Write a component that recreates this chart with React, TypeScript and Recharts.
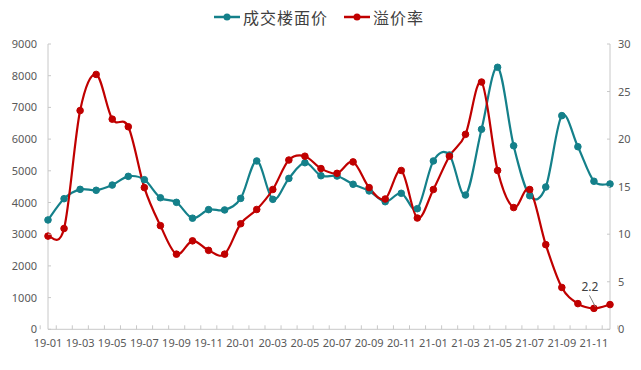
import { LineChart, Line, XAxis, YAxis, LabelList } from 'recharts';

const months = [
  '19-01', '19-02', '19-03', '19-04', '19-05', '19-06', '19-07', '19-08', '19-09', '19-10', '19-11', '19-12',
  '20-01', '20-02', '20-03', '20-04', '20-05', '20-06', '20-07', '20-08', '20-09', '20-10', '20-11', '20-12',
  '21-01', '21-02', '21-03', '21-04', '21-05', '21-06', '21-07', '21-08', '21-09', '21-10', '21-11', '21-12',
];

// 成交楼面价 (元/平方米)
const floorPrice = [
  3450, 4120, 4415, 4385, 4550, 4825, 4720, 4150, 4005, 3505, 3775, 3765,
  4130, 5310, 4100, 4760, 5255, 4845, 4835, 4575, 4365, 4025, 4290, 3805,
  5310, 5500, 4235, 6310, 8265, 5790, 4215, 4490, 6740, 5760, 4670, 4585,
];

// 溢价率 (%)
const premiumRate = [
  9.8, 10.6, 23.0, 26.8, 22.1, 21.3, 14.9, 10.9, 7.9, 9.3, 8.3, 7.9,
  11.1, 12.6, 14.7, 17.8, 18.2, 16.9, 16.4, 17.6, 14.9, 13.7, 16.7, 11.7,
  14.7, 18.2, 20.5, 26.0, 16.7, 12.8, 14.7, 8.9, 4.4, 2.7, 2.2, 2.6,
];

const leftTicks = [0, 1000, 2000, 3000, 4000, 5000, 6000, 7000, 8000, 9000];
const rightTicks = [0, 5, 10, 15, 20, 25, 30];
const annotated = '21-11';

const data = months.map((m, i) => ({ month: m, price: floorPrice[i], rate: premiumRate[i] }));

const TEAL = '#14808a';
const RED = '#c00000';
const AXIS = '#c8c8c8';
const TXT = '#595959';
const FONT = '"Noto Sans", sans-serif';

const W = 641;
const H = 370;
const LEFT_W = 48;
const RIGHT_W = 31;
const TOP = 44;
const BOTTOM = 40.7;
const BAND = (W - LEFT_W - RIGHT_W) / months.length;

// excel-like smoothing (catmull-rom through every point)
const smooth = (context: any) => {
  let pts: number[][] = [];
  return {
    areaStart() {},
    areaEnd() {},
    lineStart() {
      pts = [];
    },
    point(x: number, y: number) {
      pts.push([+x, +y]);
    },
    lineEnd() {
      const n = pts.length;
      if (!n) return;
      context.moveTo(pts[0][0], pts[0][1]);
      for (let i = 0; i < n - 1; i++) {
        const p0 = pts[Math.max(i - 1, 0)];
        const p1 = pts[i];
        const p2 = pts[i + 1];
        const p3 = pts[Math.min(i + 2, n - 1)];
        context.bezierCurveTo(
          p1[0] + (p2[0] - p0[0]) / 6,
          p1[1] + (p2[1] - p0[1]) / 6,
          p2[0] - (p3[0] - p1[0]) / 6,
          p2[1] - (p3[1] - p1[1]) / 6,
          p2[0],
          p2[1]
        );
      }
    },
  };
};

const XTick = (props: any) => {
  const { x, y, payload } = props;
  const idx = payload.index ?? props.index;
  return (
    <g>
      <line x1={x - BAND / 2} x2={x - BAND / 2} y1={y} y2={y - 4} stroke={AXIS} />
      {idx === months.length - 1 && (
        <line x1={x + BAND / 2} x2={x + BAND / 2} y1={y} y2={y - 4} stroke={AXIS} />
      )}
      {idx % 2 === 0 && (
        <text x={x} y={y + 18} textAnchor="middle" fontSize={11} fill={TXT} fontFamily={FONT}>
          {payload.value}
        </text>
      )}
    </g>
  );
};

const LeftTick = (props: any) => {
  const { x, y, payload } = props;
  return (
    <g>
      <line x1={x} x2={x + 3} y1={y} y2={y} stroke={AXIS} />
      <text x={x - 11} y={y + 4} textAnchor="end" fontSize={11} fill={TXT} fontFamily={FONT}>
        {payload.value}
      </text>
    </g>
  );
};

const RightTick = (props: any) => {
  const { x, y, payload } = props;
  return (
    <g>
      <line x1={x - 3} x2={x} y1={y} y2={y} stroke={AXIS} />
      <text x={x + 8} y={y + 4} textAnchor="start" fontSize={11} fill={TXT} fontFamily={FONT}>
        {payload.value}
      </text>
    </g>
  );
};

const RateNote = (props: any) => {
  const { x, y, index, value } = props;
  if (months[index] !== annotated) return <g />;
  return (
    <g>
      <line x1={x - 4.5} y1={y - 13} x2={x + 1.5} y2={y - 1.5} stroke="#7f7f7f" strokeWidth={1} />
      <text x={x - 4} y={y - 17} textAnchor="middle" fontSize={12} fill="#404040" fontFamily={FONT}>
        {Number(value).toFixed(1)}
      </text>
    </g>
  );
};

const LegendItem = ({ color, text }: { color: string; text: string }) => (
  <div style={{ display: 'flex', alignItems: 'center', marginRight: 16 }}>
    <svg width={26} height={10}>
      <line x1={0} y1={5} x2={26} y2={5} stroke={color} strokeWidth={2.5} />
      <circle cx={13} cy={5} r={3.5} fill={color} />
    </svg>
    <span style={{ marginLeft: 3, fontSize: 16, color: '#404040', fontFamily: '"Noto Sans CJK SC", sans-serif', letterSpacing: 1 }}>
      {text}
    </span>
  </div>
);

export default function App() {
  return (
    <div style={{ position: 'absolute', left: 0, top: 0, width: W, height: H, background: '#fff' }}>
      <div
        style={{
          position: 'absolute',
          left: 214,
          top: 5,
          display: 'flex',
          alignItems: 'center',
          lineHeight: '24px',
        }}
      >
        <LegendItem color={TEAL} text="成交楼面价" />
        <LegendItem color={RED} text="溢价率" />
      </div>
      <LineChart width={W} height={H} data={data} margin={{ top: TOP, right: 0, bottom: 0, left: 0 }}>
        <XAxis
          dataKey="month"
          interval={0}
          height={BOTTOM}
          tickSize={0}
          tickMargin={0}
          tickLine={false}
          axisLine={{ stroke: AXIS }}
          tick={<XTick />}
        />
        <YAxis
          yAxisId="left"
          width={LEFT_W}
          domain={[0, 9000]}
          ticks={leftTicks}
          tickSize={0}
          tickMargin={0}
          tickLine={false}
          axisLine={{ stroke: AXIS }}
          tick={<LeftTick />}
        />
        <YAxis
          yAxisId="right"
          orientation="right"
          width={RIGHT_W}
          domain={[0, 30]}
          ticks={rightTicks}
          tickSize={0}
          tickMargin={0}
          tickLine={false}
          axisLine={{ stroke: AXIS }}
          tick={<RightTick />}
        />
        <Line
          yAxisId="left"
          dataKey="price"
          type={smooth as any}
          stroke={TEAL}
          strokeWidth={2.2}
          dot={{ r: 3.3, fill: TEAL, stroke: TEAL, strokeWidth: 1 }}
          activeDot={false}
          isAnimationActive={false}
        />
        <Line
          yAxisId="right"
          dataKey="rate"
          type={smooth as any}
          stroke={RED}
          strokeWidth={2.2}
          dot={{ r: 3.3, fill: RED, stroke: RED, strokeWidth: 1 }}
          activeDot={false}
          isAnimationActive={false}
        >
          <LabelList dataKey="rate" content={<RateNote />} />
        </Line>
      </LineChart>
    </div>
  );
}
